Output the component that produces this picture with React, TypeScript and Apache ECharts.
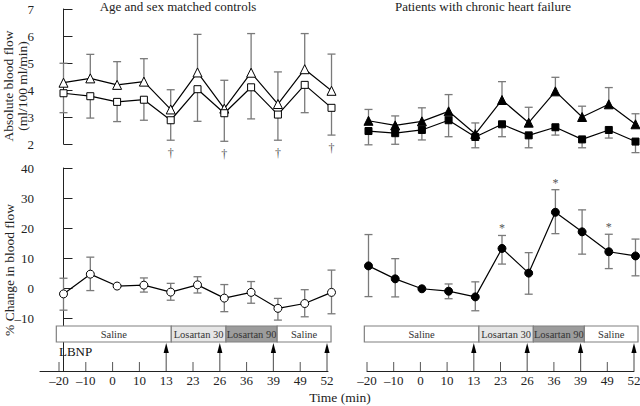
import React, { useEffect, useRef } from 'react';
import * as echarts from 'echarts';

// ---------- data ----------
const timeLabels = ['–20', '–10', '0', '10', '13', '23', '26', '36', '39', '49', '52'];

// Absolute blood flow, controls
const ctrlTri = [4.27, 4.43, 4.19, 4.31, 3.28, 4.65, 3.31, 4.64, 3.48, 4.77, 3.97];
const ctrlTriUpper = [4.99, 5.32, 5.05, 5.16, 4.01, 6.06, 4.36, 6.09, 4.67, 6.09, 5.33];
const ctrlSq = [3.88, 3.77, 3.56, 3.64, 2.88, 4.03, 3.14, 4.1, 3.09, 4.19, 3.34];
const ctrlSqLower = [3.16, 2.96, 2.83, 2.88, 2.14, 2.84, 2.1, 2.93, 2.14, 3.16, 2.33];

// Absolute blood flow, chronic heart failure
const chfTri = [2.86, 2.69, 2.84, 3.21, 2.37, 3.63, 2.79, 3.95, 3.0, 3.47, 2.73];
const chfTriUpper = [3.28, 3.04, 3.34, 3.83, 2.78, 4.31, 3.36, 4.47, 3.4, 4.09, 3.12];
const chfSq = [2.48, 2.4, 2.52, 2.88, 2.26, 2.73, 2.32, 2.62, 2.17, 2.52, 2.09];
const chfSqLower = [1.97, 1.99, 2.15, 2.27, 1.86, 2.27, 1.86, 2.33, 1.86, 2.22, 1.68];

// % change in blood flow
const ctrlPct = [-1.8, 4.75, 0.8, 1.1, -1.2, 1.2, -3.2, -1.3, -6.6, -5.0, -1.3];
const ctrlPctUpper = [3.4, 10.4, 0.8, 3.5, 1.7, 3.9, 1.3, 2.3, -3.3, -0.4, 6.1];
const ctrlPctLower = [-7.2, -0.7, 0.8, -1.2, -3.9, -1.5, -7.7, -4.9, -10.5, -9.4, -8.4];

const chfPct = [7.5, 3.2, -0.1, -0.9, -2.8, 13.3, 5.1, 25.3, 18.8, 12.2, 10.8];
const chfPctUpper = [17.9, 9.9, -0.1, 1.5, 2.2, 17.6, 11.9, 32.8, 26.1, 18.0, 16.4];
const chfPctLower = [-2.7, -2.8, -0.1, -3.4, -7.4, 8.1, -1.9, 18.2, 11.4, 6.6, 4.2];

const pctTicks = [-10, 0, 10, 20, 30, 40];
const daggerIdx = [4, 6, 8, 10];
const asteriskIdx = [5, 7, 9];
const lbnpIdx = [4, 6, 8, 10];

const phaseNames = ['Saline', 'Losartan 30', 'Losartan 90', 'Saline'];
const phaseBounds = [-0.1, 4.19, 6.23, 8.14, 10.15];

// ---------- styles ----------
const FONT = 'Liberation Serif';
const AX = '#222';
const ERR = '#7a7a7a';
const phaseFills = ['#ffffff', '#e6e6e6', '#9c9c9c', '#ffffff'];
const PCT_MIN = -27.4;
const PCT_MAX = 40;

const idx = timeLabels.map((_, i) => i);

const errRender = (capLo: boolean, capHi: boolean) => (params: any, api: any) => {
  const x = api.value(0);
  const lo = api.value(1);
  const hi = api.value(2);
  if (lo === hi) return { type: 'group', children: [] };
  const a = api.coord([x, lo]);
  const b = api.coord([x, hi]);
  const w = 4;
  const st = { stroke: ERR, lineWidth: 1.3 };
  const children: any[] = [
    { type: 'line', shape: { x1: a[0], y1: a[1], x2: b[0], y2: b[1] }, style: st },
  ];
  if (capLo) children.push({ type: 'line', shape: { x1: a[0] - w, y1: a[1], x2: a[0] + w, y2: a[1] }, style: st });
  if (capHi) children.push({ type: 'line', shape: { x1: b[0] - w, y1: b[1], x2: b[0] + w, y2: b[1] }, style: st });
  return { type: 'group', children };
};

const errSeries = (xi: number, yi: number, data: number[][], capLo: boolean, capHi: boolean) => ({
  type: 'custom',
  xAxisIndex: xi,
  yAxisIndex: yi,
  clip: false,
  z: 2,
  silent: true,
  encode: { x: 0, y: [1, 2] },
  renderItem: errRender(capLo, capHi),
  data,
});

const lineSeries = (xi: number, yi: number, vals: number[], symbol: string, size: number, filled: boolean) => ({
  type: 'line',
  xAxisIndex: xi,
  yAxisIndex: yi,
  clip: false,
  z: 4,
  silent: true,
  symbol,
  symbolSize: size,
  showSymbol: true,
  lineStyle: { color: '#000', width: 1.2 },
  itemStyle: { color: filled ? '#000' : '#fff', borderColor: '#000', borderWidth: 1 },
  data: vals.map((v, i) => [i, v]),
});

const markSeries = (xi: number, yi: number, data: number[][], text: string, dy: number, size: number) => ({
  type: 'custom',
  xAxisIndex: xi,
  yAxisIndex: yi,
  clip: false,
  z: 3,
  silent: true,
  encode: { x: 0, y: 1 },
  renderItem: (params: any, api: any) => {
    const p = api.coord([api.value(0), api.value(1)]);
    return {
      type: 'text',
      x: p[0],
      y: p[1] + dy,
      style: { text, textAlign: 'center', textVerticalAlign: 'middle', fontSize: size, fontFamily: FONT, fill: '#555' },
    };
  },
  data,
});

const tickSeries = (xi: number, yi: number) => ({
  type: 'custom',
  xAxisIndex: xi,
  yAxisIndex: yi,
  clip: false,
  z: 3,
  silent: true,
  encode: { x: 0 },
  renderItem: (params: any, api: any) => {
    const i = api.value(0);
    const px = api.coord([i, 0])[0];
    const base = params.coordSys.y + params.coordSys.height;
    if (lbnpIdx.indexOf(i) >= 0) {
      return {
        type: 'group',
        children: [
          { type: 'line', shape: { x1: px, y1: base, x2: px, y2: base - 19 }, style: { stroke: '#666', lineWidth: 1.2 } },
          {
            type: 'polygon',
            shape: { points: [[px, base - 28], [px - 2.6, base - 18], [px + 2.6, base - 18]] },
            style: { fill: '#000' },
          },
        ],
      };
    }
    return { type: 'line', shape: { x1: px, y1: base, x2: px, y2: base - 9 }, style: { stroke: '#555', lineWidth: 1 } };
  },
  data: idx.map((i) => [i]),
});

const bandSeries = (xi: number, yi: number) => ({
  type: 'custom',
  xAxisIndex: xi,
  yAxisIndex: yi,
  clip: false,
  z: 1,
  silent: true,
  encode: { x: [0, 1] },
  renderItem: (params: any, api: any) => {
    const k = api.value(2);
    const x1 = api.coord([api.value(0), 0])[0];
    const x2 = api.coord([api.value(1), 0])[0];
    const base = params.coordSys.y + params.coordSys.height;
    const top = base - 45;
    const h = 16;
    return {
      type: 'group',
      children: [
        { type: 'rect', shape: { x: x1, y: top, width: x2 - x1, height: h }, style: { fill: phaseFills[k], stroke: '#808080', lineWidth: 1.2 } },
        {
          type: 'text',
          x: (x1 + x2) / 2,
          y: top + h / 2 + 0.5,
          style: { text: phaseNames[k], textAlign: 'center', textVerticalAlign: 'middle', fontSize: 10.5, fontFamily: FONT, fill: '#333' },
        },
      ],
    };
  },
  data: phaseNames.map((_, k) => [phaseBounds[k], phaseBounds[k + 1], k]),
});

export default function App() {
  const ref = useRef<HTMLDivElement>(null);
  useEffect(() => {
    const chart = echarts.init(ref.current!, null, { renderer: 'svg' });
    const hiddenX = (grid: number, min: number, max: number) => ({ type: 'value', gridIndex: grid, min, max, show: false });
    const tickX = (grid: number, min: number, max: number) => ({
      type: 'value',
      gridIndex: grid,
      min,
      max,
      position: 'bottom',
      axisLine: { show: true, lineStyle: { color: AX, width: 1 } },
      axisTick: { show: false },
      splitLine: { show: false },
      axisLabel: {
        customValues: idx,
        formatter: (v: number) => timeLabels[Math.round(v)],
        fontSize: 13,
        fontFamily: FONT,
        color: '#222',
        margin: 3,
      },
    });
    const option: any = {
      animation: false,
      backgroundColor: '#fff',
      textStyle: { fontFamily: FONT },
      grid: [
        { left: 40, top: 9, width: 288, height: 135, containLabel: false, outerBoundsMode: 'none' },
        { left: 367, top: 9, width: 267, height: 135, containLabel: false, outerBoundsMode: 'none' },
        { left: 40, top: 168, width: 288, height: 203, containLabel: false, outerBoundsMode: 'none' },
        { left: 367, top: 168, width: 267, height: 203, containLabel: false, outerBoundsMode: 'none' },
      ],
      xAxis: [
        hiddenX(0, -0.877, 9.869),
        hiddenX(1, -0.056, 9.944),
        hiddenX(2, -0.877, 9.869),
        hiddenX(3, -0.056, 9.944),
        tickX(2, -0.709, 10.037),
        tickX(3, 0, 10),
      ],
      yAxis: [
        {
          type: 'value',
          gridIndex: 0,
          min: 2,
          max: 7,
          interval: 1,
          axisLine: { show: true, lineStyle: { color: AX, width: 1 } },
          axisTick: { show: true, inside: true, length: 9, lineStyle: { color: AX } },
          splitLine: { show: false },
          axisLabel: { fontSize: 13, fontFamily: FONT, color: '#222', margin: 6 },
        },
        { type: 'value', gridIndex: 1, min: 2, max: 7, show: false },
        {
          type: 'value',
          gridIndex: 2,
          min: PCT_MIN,
          max: PCT_MAX,
          axisLine: { show: true, lineStyle: { color: AX, width: 1 } },
          axisTick: { show: true, inside: true, length: 9, customValues: pctTicks, lineStyle: { color: AX } },
          splitLine: { show: false },
          axisLabel: {
            customValues: pctTicks,
            formatter: (v: number) => (v < 0 ? '–' + Math.abs(v) : String(v)),
            fontSize: 13,
            fontFamily: FONT,
            color: '#222',
            margin: 6,
          },
        },
        { type: 'value', gridIndex: 3, min: PCT_MIN, max: PCT_MAX, show: false },
      ],
      series: [
        // upper-left: controls absolute
        errSeries(0, 0, ctrlTri.map((v, i) => [i, v, ctrlTriUpper[i]]), false, true),
        errSeries(0, 0, ctrlSq.map((v, i) => [i, ctrlSqLower[i], v]), true, false),
        lineSeries(0, 0, ctrlTri, 'triangle', 9, false),
        lineSeries(0, 0, ctrlSq, 'rect', 7, false),
        markSeries(0, 0, daggerIdx.map((i) => [i, ctrlSqLower[i]]), '†', 13, 12),
        // upper-right: CHF absolute
        errSeries(1, 1, chfTri.map((v, i) => [i, v, chfTriUpper[i]]), false, true),
        errSeries(1, 1, chfSq.map((v, i) => [i, chfSqLower[i], v]), true, false),
        lineSeries(1, 1, chfTri, 'triangle', 9, true),
        lineSeries(1, 1, chfSq, 'rect', 7, true),
        // lower-left: controls % change
        errSeries(2, 2, ctrlPct.map((v, i) => [i, ctrlPctLower[i], ctrlPctUpper[i]]), true, true),
        lineSeries(2, 2, ctrlPct, 'circle', 8, false),
        // lower-right: CHF % change
        errSeries(3, 3, chfPct.map((v, i) => [i, chfPctLower[i], chfPctUpper[i]]), true, true),
        lineSeries(3, 3, chfPct, 'circle', 8, true),
        markSeries(3, 3, asteriskIdx.map((i) => [i, chfPctUpper[i]]), '*', -7, 12),
        // LBNP bands, ticks and arrows
        bandSeries(4, 2),
        bandSeries(5, 3),
        tickSeries(4, 2),
        tickSeries(5, 3),
      ],
      graphic: [
        { type: 'text', x: 178, y: 0, style: { text: 'Age and sex matched controls', textAlign: 'center', textVerticalAlign: 'top', fontSize: 13, fontFamily: FONT, fill: '#222' } },
        { type: 'text', x: 483, y: 0, style: { text: 'Patients with chronic heart failure', textAlign: 'center', textVerticalAlign: 'top', fontSize: 13, fontFamily: FONT, fill: '#222' } },
        { type: 'text', x: 8, y: 86, rotation: Math.PI / 2, style: { text: 'Absolute blood flow', textAlign: 'center', textVerticalAlign: 'middle', fontSize: 13.5, fontFamily: FONT, fill: '#222' } },
        { type: 'text', x: 22, y: 86, rotation: Math.PI / 2, style: { text: '(ml/100 ml/min)', textAlign: 'center', textVerticalAlign: 'middle', fontSize: 13.5, fontFamily: FONT, fill: '#222' } },
        { type: 'text', x: 9, y: 270, rotation: Math.PI / 2, style: { text: '% Change in blood flow', textAlign: 'center', textVerticalAlign: 'middle', fontSize: 13.5, fontFamily: FONT, fill: '#222' } },
        { type: 'text', x: 59, y: 351, style: { text: 'LBNP', textAlign: 'left', textVerticalAlign: 'middle', fontSize: 13, fontFamily: FONT, fill: '#111' } },
        { type: 'text', x: 340, y: 397, style: { text: 'Time (min)', textAlign: 'center', textVerticalAlign: 'middle', fontSize: 13.5, fontFamily: FONT, fill: '#222' } },
      ],
    };
    chart.setOption(option);
    return () => chart.dispose();
  }, []);
  return (
    <div
      ref={ref}
      style={{ position: 'fixed', left: 0, top: 0, width: 640, height: 406, background: '#fff' }}
    />
  );
}
